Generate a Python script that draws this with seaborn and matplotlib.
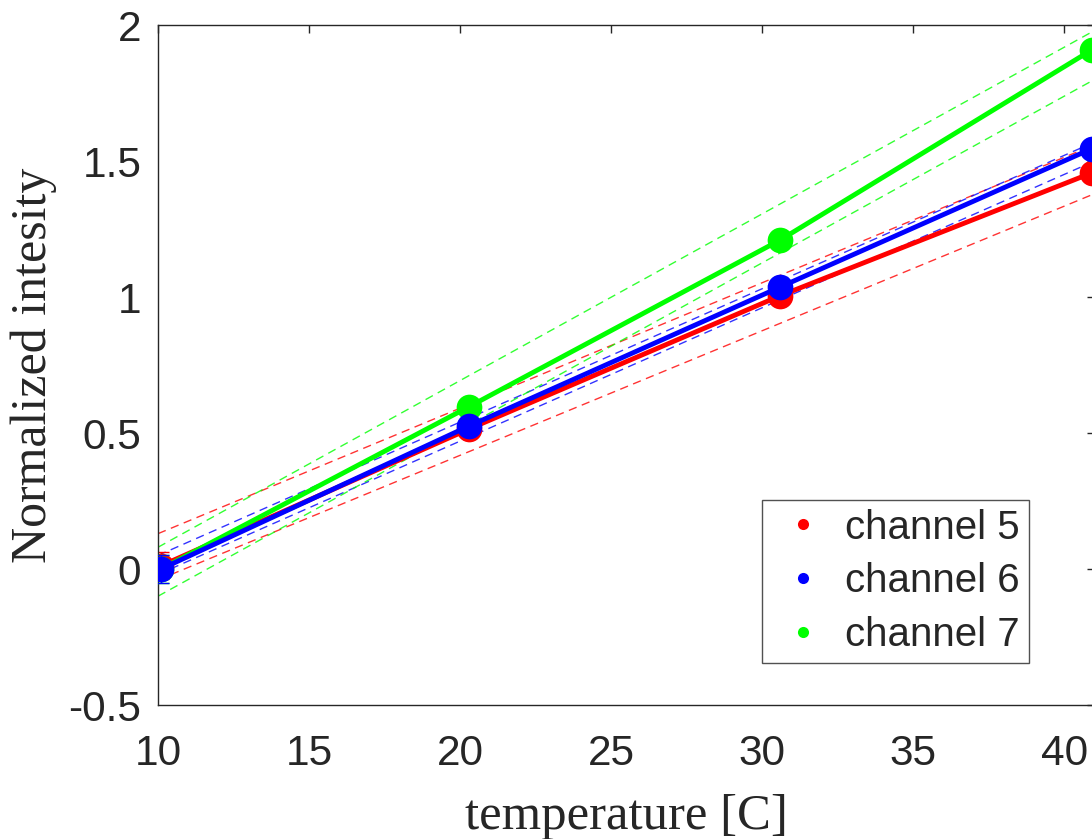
import numpy as np
import pandas as pd
import matplotlib
matplotlib.use("Agg")
import matplotlib.pyplot as plt
from matplotlib.lines import Line2D
import seaborn as sns

# measured points (normalized intensity vs temperature)
temperature = [10.1, 20.3, 30.6, 40.9]
ch5 = [0.012, 0.515, 1.005, 1.456]
ch6 = [0.0, 0.526, 1.037, 1.545]
ch7 = [0.0, 0.597, 1.21, 1.908]
err = [0.05, 0.02, 0.02, 0.02]

# dashed confidence bounds of the linear fits, read at x = 10 and x = 41
bound_x = [10, 41]
ch5_hi = [0.13, 1.56]
ch5_lo = [-0.04, 1.38]
ch6_hi = [0.05, 1.57]
ch6_lo = [-0.02, 1.50]
ch7_hi = [0.08, 1.98]
ch7_lo = [-0.10, 1.80]

labels = ["channel 5", "channel 6", "channel 7"]
colors = ["#FF0000", "#0000FF", "#00FF00"]

df = pd.DataFrame({
    "temperature": temperature * 3,
    "value": ch5 + ch6 + ch7,
    "channel": [labels[0]] * 4 + [labels[1]] * 4 + [labels[2]] * 4,
})

sns.set_style("white")
plt.rcParams["font.family"] = ["Liberation Sans", "DejaVu Sans"]

fig = plt.figure(figsize=(10.92, 8.39), dpi=100)
ax = fig.add_axes([0.1447, 0.1597, 0.8577, 0.8105])

bounds = [(ch5_lo, ch5_hi), (ch6_lo, ch6_hi), (ch7_lo, ch7_hi)]
for (lo, hi), c in zip(bounds, colors):
    ax.plot(bound_x, hi, "--", color=c, lw=1.0, dashes=(6, 4), alpha=0.8, zorder=1)
    ax.plot(bound_x, lo, "--", color=c, lw=1.0, dashes=(6, 4), alpha=0.8, zorder=1)

# draw order: red, green, blue (blue ends on top)
order = [0, 2, 1]
for rank, i in enumerate(order):
    sub = df[df["channel"] == labels[i]]
    sns.lineplot(data=sub, x="temperature", y="value", color=colors[i],
                 lw=3.5, marker="o", markersize=18.5, markeredgewidth=0,
                 ax=ax, legend=False, zorder=2 + rank)
    ax.errorbar(sub["temperature"], sub["value"], yerr=err, fmt="none",
                ecolor=colors[i], elinewidth=1, capsize=6, zorder=2 + rank)

ax.set_xlim(10, 41)
ax.set_ylim(-0.5, 2)
ax.set_xticks([10, 15, 20, 25, 30, 35, 40])
ax.set_yticks([-0.5, 0, 0.5, 1, 1.5, 2])
ax.set_yticklabels(["-0.5", "0", "0.5", "1", "1.5", "2"])

for s in ax.spines.values():
    s.set_color("#262626")
    s.set_linewidth(1.0)
ax.tick_params(direction="in", length=6, width=1, color="#262626",
               top=True, right=True, labelsize=30.5, labelcolor="#262626")
ax.tick_params(axis="x", pad=21)
ax.tick_params(axis="y", pad=12)

ax.set_xlabel("temperature [C]", family=["Liberation Serif"], fontsize=36.5,
              color="#262626", labelpad=14)
ax.set_ylabel("Normalized intesity", family=["Liberation Serif"], fontsize=36,
              color="#262626", labelpad=8)

handles = [Line2D([], [], ls="none", marker="o", markersize=8, color=c,
                  markeredgewidth=0) for c in colors]
leg = ax.legend(handles, labels, loc="lower left",
                bbox_to_anchor=(0.645, 0.062), borderaxespad=0, fontsize=29,
                frameon=True, fancybox=False, edgecolor="#262626",
                handlelength=1.6, handletextpad=0.25, borderpad=0.22,
                labelspacing=0.39)
leg.get_frame().set_linewidth(1.0)

fig.savefig("out.png", dpi=100)
